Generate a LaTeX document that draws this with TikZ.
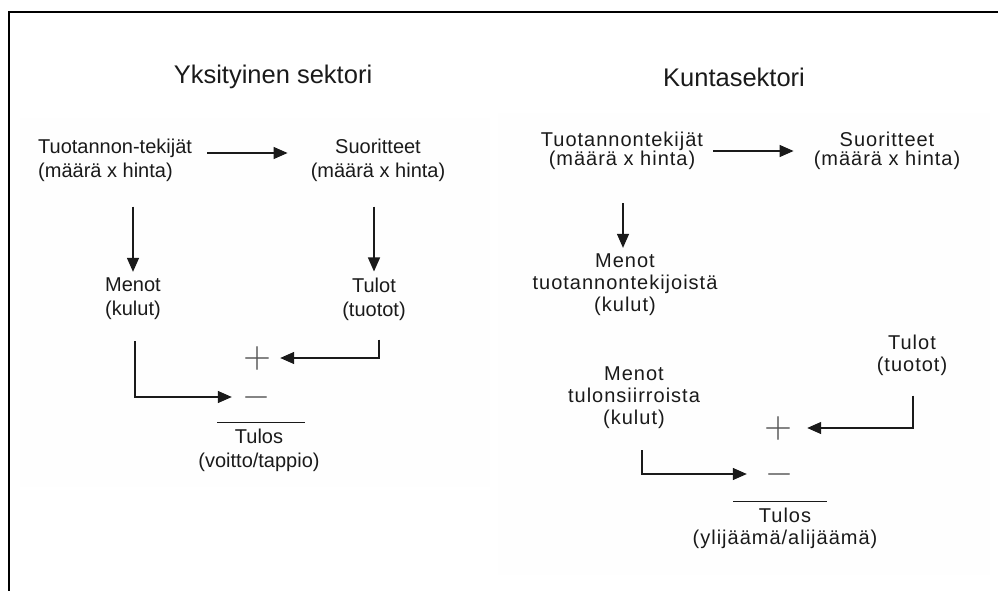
\documentclass[tikz,border=0pt]{standalone}
\usepackage{fontspec}
\setmainfont{Liberation Sans}
\newfontfamily\spacedfont[LetterSpace=5]{Liberation Sans}
\usetikzlibrary{arrows.meta,calc}
\definecolor{panel}{HTML}{FEFEFE}
\definecolor{ink}{HTML}{1A1A1A}
\definecolor{symgray}{HTML}{555555}
\newcommand{\bigsym}[1]{\scalebox{3.6}{\normalsize$#1$}}
\begin{document}
\begin{tikzpicture}[x=1pt,y=-1pt,
  title/.style={inner sep=0pt,font=\fontsize{25.5}{28}\selectfont,text=ink},
  txt/.style={inner sep=0pt,align=center,font=\fontsize{20}{24}\selectfont,text=ink},
  rtxt/.style={inner sep=0pt,align=center,font=\spacedfont\fontsize{20}{22}\selectfont,text=ink},
  rtop/.style={inner sep=0pt,align=center,font=\spacedfont\fontsize{20}{19.5}\selectfont,text=ink},
  sym/.style={inner sep=0pt,text=symgray},
  arr/.style={line width=1.3pt,draw=ink,-{Triangle[length=14pt,width=12pt]}},
  rule/.style={line width=1.3pt,draw=ink},
  frame/.style={line width=2pt,draw=black}]
\useasboundingbox (0,0) rectangle (998,591);
% faint panels
\fill[panel] (20,118) rectangle (490,487);
\fill[panel] (498,113) rectangle (990,575);
% open frame
\draw[frame] (9,591) -- (9,12) -- (998,12);

% ---------- left: private sector ----------
\node[title] (t1) at (273,77) {Yksityinen sektori};
\node[txt,anchor=west,align=left] (tt1) at (38,160) {Tuotannon-tekijät\\(määrä x hinta)};
\node[txt] (s1) at (378,160) {Suoritteet\\(määrä x hinta)};
\node[txt] (m1) at (133,299) {Menot\\(kulut)};
\node[txt] (r1) at (374,299) {Tulot\\(tuotot)};
\node[sym] (p1) at (257,358) {\bigsym{+}};
\node[sym] (n1) at (256,397) {\bigsym{-}};
\node[txt] (res1) at (259,450) {Tulos\\(voitto/tappio)};

\draw[arr] ($(tt1.east)+(15,-7)$) -- ($(s1.west |- tt1.east)+(-23,-7)$);
\draw[arr] ($(m1.north |- tt1.south)+(0,25)$) -- ($(m1.north)+(0,-6)$);
\draw[arr] ($(r1.north |- s1.south)+(0,25)$) -- ($(r1.north)+(0,-6)$);
\draw[arr] ($(m1.south)+(2,21)$) |- ($(n1.west)+(-10,0)$);
\draw[arr] ($(r1.south)+(5,19)$) |- ($(p1.east)+(9,0)$);
\draw[rule] ($(res1.north)+(-42,-6)$) -- ($(res1.north)+(46,-6)$);

% ---------- right: municipal sector ----------
\node[title] (t2) at (734,77) {Kuntasektori};
\node[rtop] (tt2) at (622,151) {Tuotannontekijät\\(määrä x hinta)};
\node[rtop] (s2) at (887,151) {Suoritteet\\(määrä x hinta)};
\node[rtxt] (m2) at (625,285) {Menot\\tuotannontekijoistä\\(kulut)};
\node[rtxt] (r2) at (912,355) {Tulot\\(tuotot)};
\node[rtxt] (m3) at (634,398) {Menot\\tulonsiirroista\\(kulut)};
\node[sym] (p2) at (778,428) {\bigsym{+}};
\node[sym] (n2) at (779,474) {\bigsym{-}};
\node[rtxt] (res2) at (785,528) {Tulos\\(ylijäämä/alijäämä)};

\draw[arr] ($(tt2.east)+(10,0)$) -- ($(s2.west)+(-20,0)$);
\draw[arr] ($(m2.north |- tt2.south)+(-2,33)$) -- ($(m2.north)+(-2,-6)$);
\draw[arr] ($(r2.south)+(1,20)$) |- ($(p2.east)+(15,0)$);
\draw[arr] ($(m3.south)+(8,21)$) |- ($(n2.west)+(-18,0)$);
\draw[rule] ($(res2.north)+(-52,-6)$) -- ($(res2.north)+(42,-6)$);
\end{tikzpicture}
\end{document}
